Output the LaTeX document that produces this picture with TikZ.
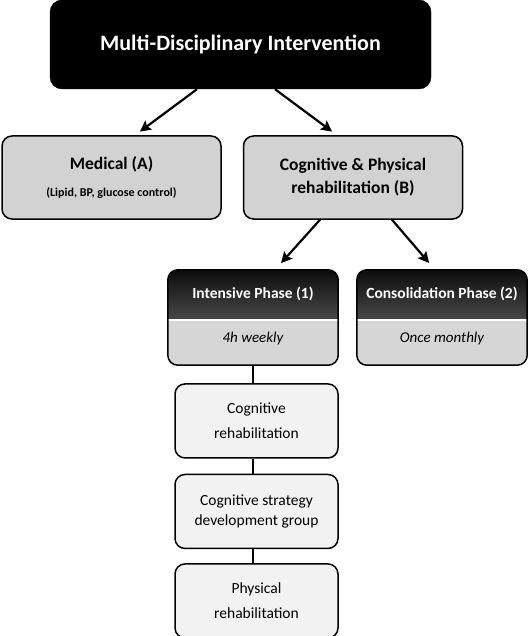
\documentclass[tikz,border=0pt]{standalone}
\usepackage{fontspec}
\setmainfont{Carlito}
\usetikzlibrary{arrows.meta, positioning, calc}
\tikzset{
  topbox/.style={rectangle,rounded corners=12pt,draw=black,fill=black,text=white,font=\fontsize{22}{26}\selectfont\bfseries,minimum width=381pt,minimum height=89pt},
  branch/.style={rectangle,rounded corners=10pt,draw=black,line width=1.5pt,fill=gray!35,align=center,font=\fontsize{17.5}{23}\selectfont\bfseries,minimum width=219pt,minimum height=83pt},
  phase/.style={rectangle,rounded corners=10pt,fill=gray!32,minimum width=170pt,minimum height=95pt},
  phasehead/.style={text=white,font=\fontsize{15.5}{18}\selectfont\bfseries},
  phasefreq/.style={font=\fontsize{15}{18}\selectfont\itshape},
  activity/.style={rectangle,rounded corners=10pt,draw=black,line width=1.5pt,fill=gray!10,align=center,font=\fontsize{15.5}{20}\selectfont,minimum width=163pt,minimum height=74pt},
  link/.style={line width=2.2pt,-{Stealth[length=11pt,width=11pt,inset=2pt]}},
  tie/.style={line width=2.5pt},
}

\begin{document}
\begin{tikzpicture}[x=1pt,y=1pt]
	    \useasboundingbox (0,0) rectangle (528,-636);
	    \node[topbox] (MDI) at (240.5,-44.5) {Multi-Disciplinary Intervention};
	    \node[branch] (MED) at (111.5,-177.5) {Medical (A)\\[4pt]{\fontsize{12}{14}\selectfont(Lipid, BP, glucose control)}};
	    \node[branch] (CPR) at (353,-177.5) {Cognitive \& Physical\\rehabilitation (B)};
	    \node[phase] (P1) at (253,-317.5) {};
	    \node[phase] (P2) at (442,-317.5) {};
	    % dark header of each phase
	    \foreach \p in {P1,P2}{
	      \fill[top color=black!95,bottom color=black!72,rounded corners=10pt] ([yshift=-49pt]\p.north west) |- (\p.north) -| ([yshift=-49pt]\p.north east);
	      \draw[white,line width=2pt] ([yshift=-50pt]\p.north west) -- ([yshift=-50pt]\p.north east);
	      \draw[line width=1.5pt,rounded corners=10pt] (\p.south west) rectangle (\p.north east);
	    }
	    \node[phasehead] (P1h) at ([yshift=-24pt]P1.north) {Intensive Phase (1)};
	    \node[phasefreq] (P1f) at ([yshift=27pt]P1.south) {4h weekly};
	    \node[phasehead] (P2h) at ([yshift=-24pt]P2.north) {Consolidation Phase (2)};
	    \node[phasefreq] (P2f) at ([yshift=27pt]P2.south) {Once monthly};
	    \node[activity,below=18pt of P1,xshift=3.5pt] (A1) {Cognitive\\[5pt]rehabilitation};
	    \node[activity,below=15pt of A1] (A2) {Cognitive strategy\\development group};
	    \node[activity,below=14pt of A2] (A3) {Physical\\[5pt]rehabilitation};
	    \draw[link,shorten >=6pt] ([xshift=-43.5pt]MDI.south) -- ([xshift=23.5pt]MED.north);
	    \draw[link,shorten >=6pt] ([xshift=34.5pt]MDI.south) -- ([xshift=-16pt]CPR.north);
	    \draw[link,shorten >=9pt] ([xshift=-33pt]CPR.south) -- ([xshift=22pt]P1.north);
	    \draw[link,shorten >=9pt] ([xshift=39pt]CPR.south) -- ([xshift=-7pt]P2.north);
	    \draw[tie] (P1.south) -- (P1.south |- A1.north);
	    \draw[tie] (A1.south -| P1.south) -- (A2.north -| P1.south);
	    \draw[tie] (A2.south -| P1.south) -- (A3.north -| P1.south);
	\end{tikzpicture}
\end{document}
